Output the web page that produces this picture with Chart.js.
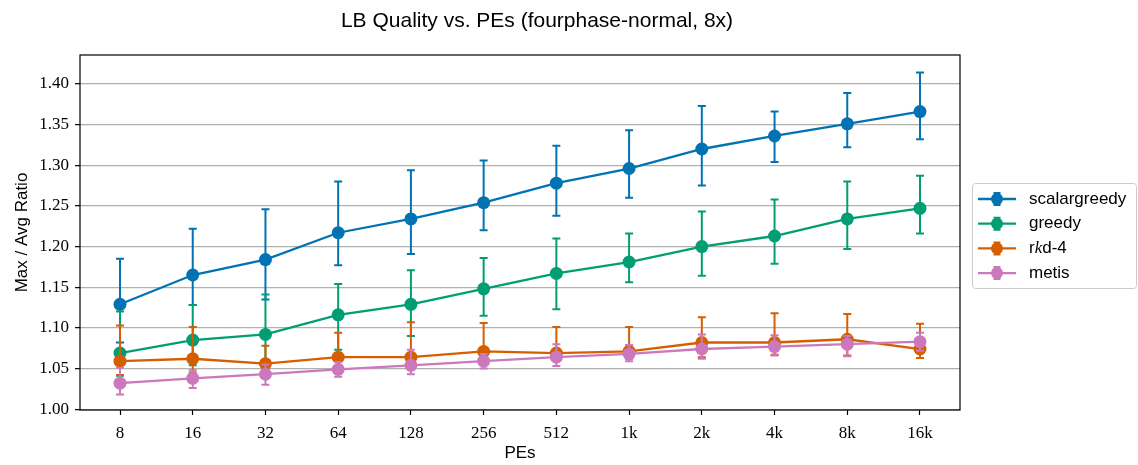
<!DOCTYPE html>
<html>
<head>
<meta charset="utf-8">
<title>LB Quality vs. PEs</title>
<script src="https://cdn.jsdelivr.net/npm/chart.js@4.4.1/dist/chart.umd.min.js"></script>
<style>
    html, body { margin: 0; padding: 0; background: #fff; }
    #wrap { width: 1138px; height: 465px; }
</style>
</head>
<body>
<div id="wrap"><canvas id="grafico" width="1138" height="465"></canvas></div>
<script>
const chartTitle = "LB Quality vs. PEs (fourphase-normal, 8x)";
const peLabels = ["8", "16", "32", "64", "128", "256", "512", "1k", "2k", "4k", "8k", "16k"];
const yTicks = [1.00, 1.05, 1.10, 1.15, 1.20, 1.25, 1.30, 1.35, 1.40];

const seriesNames = ["scalargreedy", "greedy", "r$k$d-4", "metis"];
const seriesColors = ["#0173b2", "#029e73", "#d55e00", "#cc78bc"];

// scalargreedy
const scalarMean = [1.129, 1.165, 1.184, 1.217, 1.234, 1.254, 1.278, 1.296, 1.320, 1.336, 1.351, 1.366];
const scalarLow  = [1.082, 1.128, 1.135, 1.177, 1.191, 1.220, 1.238, 1.260, 1.275, 1.304, 1.322, 1.332];
const scalarHigh = [1.185, 1.222, 1.246, 1.280, 1.294, 1.306, 1.324, 1.343, 1.373, 1.366, 1.389, 1.414];

// greedy
const greedyMean = [1.069, 1.085, 1.092, 1.116, 1.129, 1.148, 1.167, 1.181, 1.200, 1.213, 1.234, 1.247];
const greedyLow  = [1.041, 1.054, 1.048, 1.073, 1.090, 1.115, 1.123, 1.156, 1.164, 1.179, 1.197, 1.216];
const greedyHigh = [1.120, 1.128, 1.141, 1.154, 1.171, 1.186, 1.210, 1.216, 1.243, 1.258, 1.280, 1.287];

// rkd-4
const rkdMean = [1.059, 1.062, 1.056, 1.064, 1.064, 1.071, 1.069, 1.071, 1.082, 1.082, 1.086, 1.074];
const rkdLow  = [1.042, 1.045, 1.040, 1.050, 1.052, 1.058, 1.060, 1.062, 1.064, 1.067, 1.066, 1.063];
const rkdHigh = [1.103, 1.101, 1.078, 1.094, 1.107, 1.106, 1.101, 1.101, 1.113, 1.118, 1.117, 1.105];

// metis
const metisMean = [1.032, 1.038, 1.043, 1.049, 1.054, 1.059, 1.064, 1.068, 1.074, 1.077, 1.080, 1.083];
const metisLow  = [1.018, 1.026, 1.030, 1.040, 1.043, 1.050, 1.053, 1.059, 1.062, 1.066, 1.065, 1.072];
const metisHigh = [1.051, 1.048, 1.055, 1.058, 1.073, 1.068, 1.080, 1.079, 1.092, 1.091, 1.090, 1.094];

const means = [scalarMean, greedyMean, rkdMean, metisMean];
const lows = [scalarLow, greedyLow, rkdLow, metisLow];
const highs = [scalarHigh, greedyHigh, rkdHigh, metisHigh];

const sansFont = '"Liberation Sans", Arial, sans-serif';
const serifFont = '"Liberation Serif", "Times New Roman", serif';

const datasets = seriesNames.map((name, s) => ({
    label: name.replace(/\$/g, ""),
    data: means[s].map((v, i) => ({ x: i, y: v })),
    errLow: lows[s],
    errHigh: highs[s],
    borderColor: seriesColors[s],
    backgroundColor: seriesColors[s],
    pointBackgroundColor: seriesColors[s],
    pointBorderWidth: 0,
    pointRadius: 6.5,
    borderWidth: 2.3,
    tension: 0,
    order: seriesNames.length - s // later series on top, like matplotlib
}));

// draws "r$k$d-4" with the $...$ part in italic serif
function drawMathText(ctx, text, x, y, size) {
    const parts = text.split("$");
    parts.forEach((p, i) => {
        if (!p) return;
        ctx.font = i % 2 ? `italic ${size}px ${serifFont}` : `${size}px ${sansFont}`;
        ctx.fillText(p, x, y);
        x += ctx.measureText(p).width;
    });
}

const errorBars = {
    id: "errorBars",
    beforeDatasetDraw(chart, args) {
        const ds = chart.data.datasets[args.index];
        const yScale = chart.scales.y;
        const ctx = chart.ctx;
        ctx.save();
        ctx.strokeStyle = ds.borderColor;
        ctx.lineWidth = 2;
        args.meta.data.forEach((pt, i) => {
            const yLo = yScale.getPixelForValue(ds.errLow[i]);
            const yHi = yScale.getPixelForValue(ds.errHigh[i]);
            ctx.beginPath();
            ctx.moveTo(pt.x, yLo);
            ctx.lineTo(pt.x, yHi);
            ctx.moveTo(pt.x - 4, yLo);
            ctx.lineTo(pt.x + 4, yLo);
            ctx.moveTo(pt.x - 4, yHi);
            ctx.lineTo(pt.x + 4, yHi);
            ctx.stroke();
        });
        ctx.restore();
    }
};

const decorations = {
    id: "decorations",
    afterDraw(chart) {
        const ctx = chart.ctx;
        const area = chart.chartArea;
        ctx.save();

        // frame
        ctx.strokeStyle = "#000";
        ctx.lineWidth = 1.2;
        ctx.strokeRect(area.left, area.top, area.right - area.left, area.bottom - area.top);

        // title
        ctx.fillStyle = "#000";
        ctx.font = `21px ${sansFont}`;
        ctx.textAlign = "center";
        ctx.textBaseline = "middle";
        ctx.fillText(chartTitle, 537, 21);

        // legend
        const lx = 972.5, ly = 183.5, lw = 164, lh = 105;
        ctx.fillStyle = "rgba(255,255,255,0.8)";
        ctx.strokeStyle = "#cccccc";
        ctx.lineWidth = 1;
        ctx.beginPath();
        ctx.roundRect(lx, ly, lw, lh, 3);
        ctx.fill();
        ctx.stroke();

        seriesNames.forEach((name, s) => {
            const rowY = 199 + s * 24.7;
            const c = seriesColors[s];
            ctx.strokeStyle = c;
            ctx.fillStyle = c;
            ctx.lineWidth = 2.3;
            ctx.beginPath();
            ctx.moveTo(978, rowY);
            ctx.lineTo(1016, rowY);
            ctx.stroke();
            ctx.lineWidth = 2;
            ctx.beginPath();
            ctx.moveTo(997, rowY - 6);
            ctx.lineTo(997, rowY + 6);
            ctx.moveTo(993.5, rowY - 6);
            ctx.lineTo(1000.5, rowY - 6);
            ctx.moveTo(993.5, rowY + 6);
            ctx.lineTo(1000.5, rowY + 6);
            ctx.stroke();
            ctx.beginPath();
            ctx.arc(997, rowY, 6, 0, Math.PI * 2);
            ctx.fill();

            ctx.fillStyle = "#000";
            ctx.textAlign = "left";
            ctx.textBaseline = "middle";
            drawMathText(ctx, name, 1029, rowY, 17);
        });
        ctx.restore();
    }
};

const grafico = new Chart(document.getElementById("grafico"), {
    type: "line",
    data: { datasets },
    plugins: [errorBars, decorations],
    options: {
        responsive: false,
        animation: false,
        devicePixelRatio: 1,
        layout: { padding: { top: 55, right: 178, bottom: 0, left: 0 } },
        plugins: {
            legend: { display: false },
            title: { display: false },
            tooltip: { enabled: false }
        },
        scales: {
            x: {
                type: "linear",
                min: -0.55,
                max: 11.55,
                afterBuildTicks: (scale) => {
                    scale.ticks = peLabels.map((_, i) => ({ value: i }));
                },
                afterFit: (scale) => { scale.height = 55; },
                ticks: {
                    autoSkip: false,
                    maxRotation: 0,
                    padding: 8,
                    color: "#000",
                    font: { family: serifFont, size: 17 },
                    callback: (v) => peLabels[Math.round(v)]
                },
                grid: {
                    drawOnChartArea: false,
                    tickLength: 5,
                    tickColor: "#000",
                    tickWidth: 1.2
                },
                border: { display: false },
                title: {
                    display: true,
                    text: "PEs",
                    color: "#000",
                    font: { family: sansFont, size: 17 },
                    padding: { top: 0, bottom: 1 }
                }
            },
            y: {
                min: 0.999,
                max: 1.4356,
                afterBuildTicks: (scale) => {
                    scale.ticks = yTicks.map(v => ({ value: v }));
                },
                afterFit: (scale) => { scale.width = 80; },
                ticks: {
                    padding: 6,
                    color: "#000",
                    font: { family: serifFont, size: 17 },
                    callback: (v) => v.toFixed(2)
                },
                grid: {
                    color: "#b0b0b0",
                    lineWidth: 1.3,
                    tickLength: 5,
                    tickColor: "#000",
                    tickWidth: 1.2
                },
                border: { display: false },
                title: {
                    display: true,
                    text: "Max / Avg Ratio",
                    color: "#000",
                    font: { family: sansFont, size: 17 },
                    padding: { top: 12, bottom: 0 }
                }
            }
        }
    }
});
</script>
</body>
</html>
